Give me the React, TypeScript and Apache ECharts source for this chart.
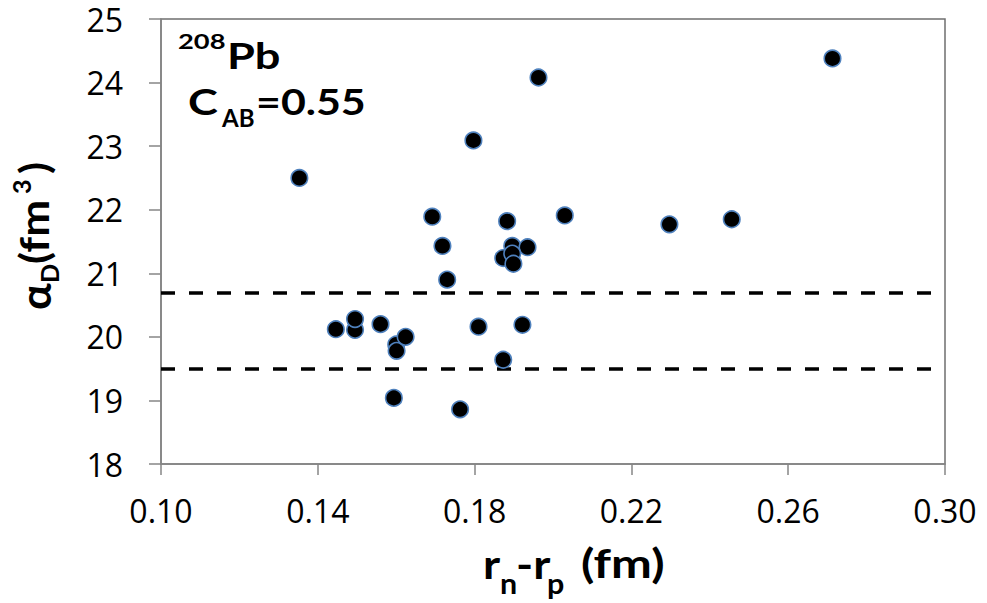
import React, { useEffect, useRef } from "react";
import * as echarts from "echarts";

const xValues = [
  0.1353, 0.1797, 0.1963, 0.2713, 0.1883, 0.203, 0.2297, 0.2456, 0.1692, 0.1718,
  0.1896, 0.1935, 0.1873, 0.1896, 0.1899, 0.173, 0.1446, 0.1495, 0.1495, 0.156,
  0.16, 0.1601, 0.1624, 0.181, 0.1922, 0.1873, 0.1594, 0.1763,
];
const yValues = [
  22.5, 23.09, 24.08, 24.38, 21.82, 21.91, 21.77, 21.85, 21.89, 21.43,
  21.43, 21.41, 21.24, 21.31, 21.15, 20.9, 20.12, 20.11, 20.28, 20.2,
  19.88, 19.78, 20.0, 20.16, 20.19, 19.64, 19.04, 18.86,
];
const thresholds = [20.7, 19.5];
const xTicks = { min: 0.1, max: 0.3, interval: 0.04 };
const yTicks = { min: 18, max: 25, interval: 1 };

const FONT = 'Lato, "Open Sans", sans-serif';
const TICK_FONT = '"Open Sans", Lato, sans-serif';

function txt(text: string, x: number, y: number, size: number, scaleX = 1) {
  return {
    type: "text",
    x,
    y,
    scaleX,
    style: {
      text,
      fontFamily: FONT,
      fontSize: size,
      fontWeight: "bold",
      fill: "#000",
      textAlign: "left",
      textVerticalAlign: "middle",
    },
  };
}

export default function App() {
  const ref = useRef<HTMLDivElement>(null);
  useEffect(() => {
    if (!ref.current) return;
    const chart = echarts.init(ref.current, undefined, { renderer: "svg" });
    const points = xValues.map((x, i) => [x, yValues[i]]);
    chart.setOption({
      animation: false,
      backgroundColor: "#fff",
      grid: {
        left: 161,
        right: 42,
        top: 19,
        bottom: 139,
        show: true,
        borderColor: "#6f6f6f",
        borderWidth: 1.5,
      },
      xAxis: {
        type: "value",
        min: xTicks.min,
        max: xTicks.max,
        interval: xTicks.interval,
        axisLine: { show: true, lineStyle: { color: "#868686", width: 1.5 } },
        axisTick: { show: true, length: 11, lineStyle: { color: "#868686", width: 1.5 } },
        splitLine: { show: false },
        axisLabel: {
          margin: 31,
          fontFamily: TICK_FONT,
          fontSize: 32,
          lineHeight: 30,
          color: "#000",
          formatter: (v: number) => v.toFixed(2),
        },
      },
      yAxis: {
        type: "value",
        min: yTicks.min,
        max: yTicks.max,
        interval: yTicks.interval,
        axisLine: { show: true, lineStyle: { color: "#868686", width: 1.5 } },
        axisTick: { show: true, length: 12, lineStyle: { color: "#868686", width: 1.5 } },
        splitLine: { show: false },
        axisLabel: {
          margin: 38,
          fontFamily: TICK_FONT,
          fontSize: 32,
          lineHeight: 30,
          color: "#000",
        },
      },
      series: [
        {
          type: "scatter",
          data: points,
          symbolSize: 16.5,
          itemStyle: { color: "#000", borderColor: "#4f81bd", borderWidth: 1.6, opacity: 1 },
          z: 3,
          markLine: {
            silent: true,
            symbol: "none",
            label: { show: false },
            lineStyle: { color: "#000", width: 3.5, type: [14, 14], cap: "butt", opacity: 1 },
            data: thresholds.map((t) => ({ yAxis: t })),
            z: 2,
          },
        },
      ],
      graphic: [
        // x axis title
        txt("r", 483, 563, 40, 1.15),
        txt("n", 500, 583, 29, 1.05),
        txt("-r", 516, 563, 40, 1.15),
        txt("p", 547, 583, 29, 1.05),
        txt("(fm)", 581, 563, 40, 1.22),
        // y axis title (rotated)
        {
          type: "group",
          x: 47,
          y: 310,
          rotation: Math.PI / 2,
          children: [
            txt("α", 0, -13, 42, 1.05),
            txt("D", 27, 3, 24, 1.05),
            txt("(fm", 46, -13, 40, 1.1),
            txt("3", 116, -25, 24, 1.05),
            txt(")", 136, -13, 40, 1.1),
          ],
        },
        // annotation
        txt("208", 178, 41, 21, 1.3),
        txt("Pb", 227, 55, 37, 1.22),
        txt("C", 188, 101, 37, 1.22),
        txt("AB", 222, 117, 24, 1.0),
        txt("=0.55", 256, 101, 37, 1.16),
      ],
    });
    return () => chart.dispose();
  }, []);
  return (
    <div
      ref={ref}
      style={{ position: "fixed", left: 0, top: 0, width: 987, height: 603, background: "#fff" }}
    />
  );
}
